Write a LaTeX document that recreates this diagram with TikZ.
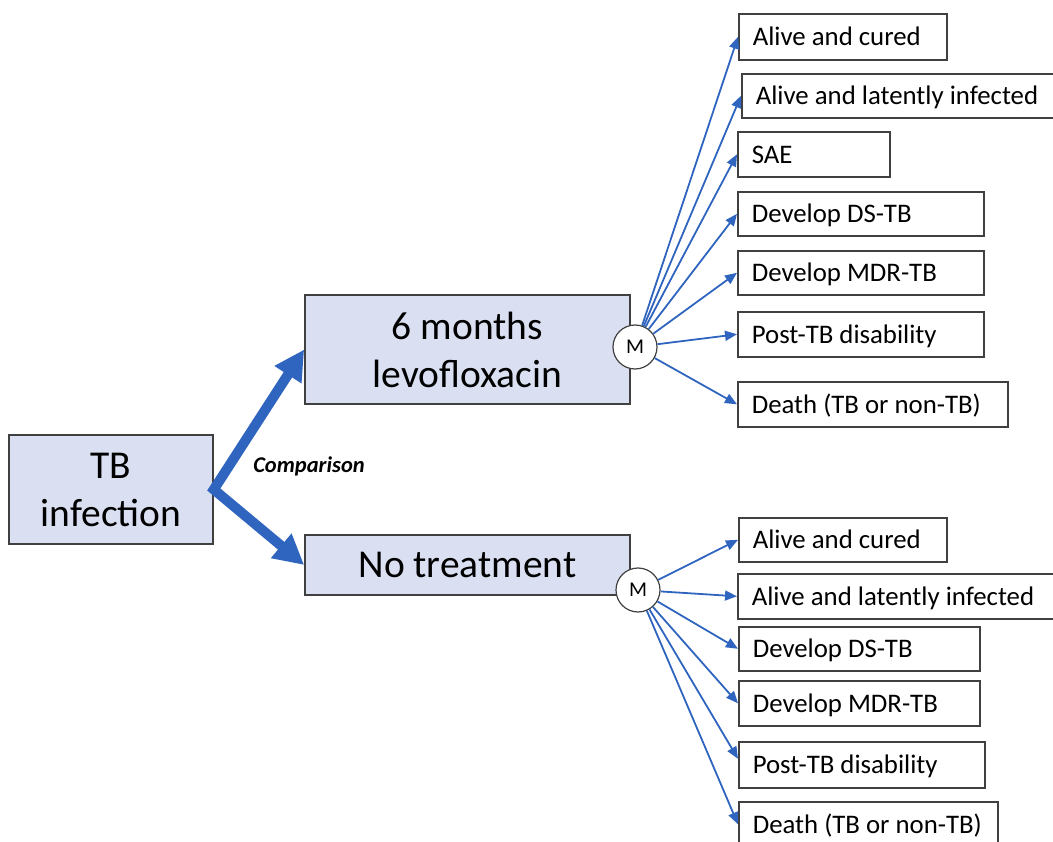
\documentclass[tikz,border=0pt]{standalone}
\usepackage{fontspec}
\setmainfont{Carlito}
\usetikzlibrary{arrows.meta}
\definecolor{arrblue}{HTML}{2F65BF}
\definecolor{boxfill}{HTML}{DAE0F1}
\definecolor{boxline}{HTML}{404040}
% \obox{name}{x of NW corner}{y of NW corner}{text width}{height}{text}
\newcommand\obox[6]{\node[outcome, minimum height=#5pt] (#1) at (#2,#3) {\makebox[#4pt][l]{#6}};}
\tikzset{
  outcome/.style={draw=boxline, line width=1.6pt, fill=white, anchor=north west,
    inner xsep=14pt, inner ysep=0pt, text height=17.5pt, text depth=0pt,
    font=\fontsize{26.8}{30}\selectfont},
  mainbox/.style={draw=boxline, line width=1.6pt, fill=boxfill, align=center,
    inner sep=0pt, font=\fontsize{39.5}{48}\selectfont},
  mnode/.style={circle, draw=boxline, line width=1.2pt, fill=white, minimum size=44pt,
    inner sep=0pt, font=\fontsize{21}{24}\selectfont},
  bigarrow/.style={draw=arrblue, line width=10pt,
    {Triangle[length=30pt,width=30pt]}-{Triangle[length=30pt,width=30pt]}},
  thinarrow/.style={draw=arrblue, line width=1.8pt, -{Triangle[length=12pt,width=10pt]}},
}
\begin{document}
\begin{tikzpicture}[x=1pt,y=-1pt]
\useasboundingbox (0,0) rectangle (1053,842);
% main boxes
\node[mainbox, minimum width=204pt, minimum height=109pt] (tb) at (111,489.5) {TB\\infection};
\node[mainbox, minimum width=325pt, minimum height=109pt] (lev) at (467.5,349.5) {6 months\\levofloxacin};
\node[mainbox, minimum width=325pt, minimum height=60pt, text height=25pt, text depth=0pt] (none) at (467.5,565) {No treatment};
% thick arrows
\draw[bigarrow] (lev.west) -- (tb.east) -- (none.west);
\node[font=\fontsize{22.5}{26}\selectfont\bfseries\itshape] (cmp) at (309,466) {Comparison};
% top outcomes
\obox{t1}{738}{13}{180}{46}{Alive and cured}
\obox{t2}{741}{73}{292}{44}{Alive and latently infected}
\obox{t3}{737}{131}{124}{45}{SAE}
\obox{t4}{737}{191}{218}{44}{Develop DS-TB}
\obox{t5}{737}{250}{218}{44}{Develop MDR-TB}
\obox{t6}{737}{311}{218}{45}{Post-TB disability}
\obox{t7}{737}{381}{242}{45}{Death (TB or non-TB)}
% bottom outcomes
\obox{b1}{738}{517}{180}{44}{Alive and cured}
\obox{b2}{737}{573}{292}{45}{Alive and latently infected}
\obox{b3}{738}{626}{213}{44}{Develop DS-TB}
\obox{b4}{738}{680}{213}{45}{Develop MDR-TB}
\obox{b5}{738}{741}{218}{46}{Post-TB disability}
\obox{b6}{738}{801}{231}{45}{Death (TB or non-TB)}
% M nodes
\node[mnode] (m1) at (635,347) {M};
\node[mnode] (m2) at (638,590) {M};
% thin arrows
\foreach \t in {t1,t2,t3,t4,t5,t6,t7} \draw[thinarrow] (m1) -- (\t.west);
\foreach \t in {b1,b2,b3,b4,b6} \draw[thinarrow] (m2) -- (\t.west);
\draw[thinarrow] (m2) -- ([yshift=6pt]b5.west);
\end{tikzpicture}
\end{document}
